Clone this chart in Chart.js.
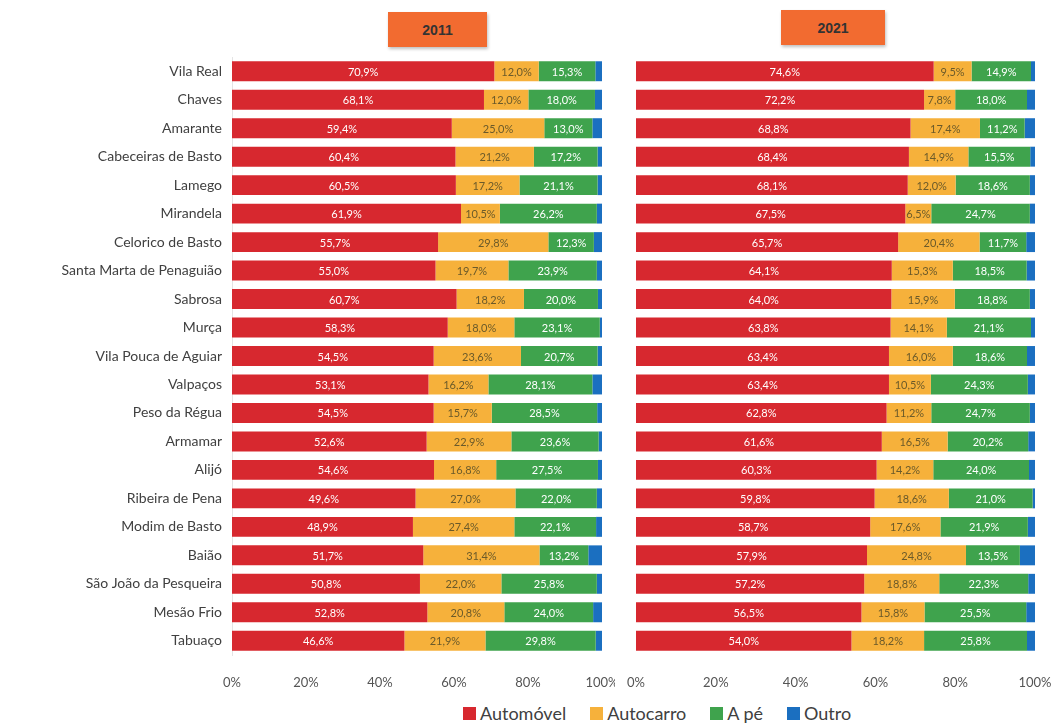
<!DOCTYPE html>
<html>
<head>
<meta charset="utf-8">
<script src="https://cdn.jsdelivr.net/npm/chart.js@4/dist/chart.umd.min.js"></script>
<style>
  body { margin: 0; background: #fff; width: 1061px; height: 724px; position: relative; overflow: hidden; font-family: Lato, sans-serif; }
  .box { position: absolute; height: 35px; background: #f26b30; box-shadow: 1px 2px 3px rgba(0,0,0,0.25);
         color: #333; font: bold 14px "Liberation Sans", sans-serif; display: flex; align-items: center; justify-content: center; }
  #wrapL { position: absolute; left: 0; top: 0; width: 615px; height: 700px; }
  #wrapR { position: absolute; left: 615px; top: 0; width: 446px; height: 700px; }
  #legend { position: absolute; top: 702px; left: 463px; width: 440px; height: 22px; display: flex; gap: 24px; color: #404040; font-size: 18px; line-height: 22px; }
  #legend span { display: flex; align-items: center; }
  #legend i { display: inline-block; width: 13px; height: 13px; margin-right: 4px; }
</style>
</head>
<body>
<div class="box" style="left:388px; top:12px; width:99px;">2011</div>
<div class="box" style="left:781px; top:10px; width:104px;">2021</div>
<div id="wrapL"><canvas id="c2011"></canvas></div>
<div id="wrapR"><canvas id="c2021"></canvas></div>
<div id="legend"></div>
<script>
const categories = ['Vila Real', 'Chaves', 'Amarante', 'Cabeceiras de Basto', 'Lamego', 'Mirandela',
  'Celorico de Basto', 'Santa Marta de Penaguião', 'Sabrosa', 'Murça', 'Vila Pouca de Aguiar', 'Valpaços',
  'Peso da Régua', 'Armamar', 'Alijó', 'Ribeira de Pena', 'Modim de Basto', 'Baião',
  'São João da Pesqueira', 'Mesão Frio', 'Tabuaço'];
const seriesNames = ['Automóvel', 'Autocarro', 'A pé', 'Outro'];
const colors = ['#d7282f', '#f6b13b', '#3fa34d', '#1b6fc0'];

const auto2011  = [70.9, 68.1, 59.4, 60.4, 60.5, 61.9, 55.7, 55.0, 60.7, 58.3, 54.5, 53.1, 54.5, 52.6, 54.6, 49.6, 48.9, 51.7, 50.8, 52.8, 46.6];
const bus2011   = [12.0, 12.0, 25.0, 21.2, 17.2, 10.5, 29.8, 19.7, 18.2, 18.0, 23.6, 16.2, 15.7, 22.9, 16.8, 27.0, 27.4, 31.4, 22.0, 20.8, 21.9];
const walk2011  = [15.3, 18.0, 13.0, 17.2, 21.1, 26.2, 12.3, 23.9, 20.0, 23.1, 20.7, 28.1, 28.5, 23.6, 27.5, 22.0, 22.1, 13.2, 25.8, 24.0, 29.8];
const other2011 = [1.8, 1.9, 2.6, 1.2, 1.2, 1.4, 2.2, 1.4, 1.1, 0.6, 1.2, 2.6, 1.3, 0.9, 1.1, 1.4, 1.6, 3.7, 1.4, 2.4, 1.7];

const auto2021  = [74.6, 72.2, 68.8, 68.4, 68.1, 67.5, 65.7, 64.1, 64.0, 63.8, 63.4, 63.4, 62.8, 61.6, 60.3, 59.8, 58.7, 57.9, 57.2, 56.5, 54.0];
const bus2021   = [9.5, 7.8, 17.4, 14.9, 12.0, 6.5, 20.4, 15.3, 15.9, 14.1, 16.0, 10.5, 11.2, 16.5, 14.2, 18.6, 17.6, 24.8, 18.8, 15.8, 18.2];
const walk2021  = [14.9, 18.0, 11.2, 15.5, 18.6, 24.7, 11.7, 18.5, 18.8, 21.1, 18.6, 24.3, 24.7, 20.2, 24.0, 21.0, 21.9, 13.5, 22.3, 25.5, 25.8];
const other2021 = [1.0, 2.0, 2.6, 1.2, 1.3, 1.3, 2.2, 2.1, 1.3, 1.0, 2.0, 1.8, 1.3, 1.7, 1.5, 0.6, 1.8, 3.8, 1.7, 2.2, 2.0];

const tickLabels = ['0%', '20%', '40%', '60%', '80%', '100%'];

const segLabels = {
  id: 'segLabels',
  afterDatasetsDraw(chart) {
    const ctx = chart.ctx;
    ctx.save();
    ctx.font = '11px Lato';
    ctx.textAlign = 'center';
    ctx.textBaseline = 'middle';
    chart.data.datasets.forEach((ds, i) => {
      if (i > 2) return;
      chart.getDatasetMeta(i).data.forEach((bar, j) => {
        ctx.fillStyle = i === 1 ? '#6b5a2a' : '#ffffff';
        ctx.fillText(ds.data[j].toFixed(1).replace('.', ',') + '%', (bar.x + bar.base) / 2, bar.y + 1);
      });
    });
    ctx.restore();
  }
};

function makeChart(id, series, showY, padding) {
  return new Chart(document.getElementById(id), {
    type: 'bar',
    data: {
      labels: categories,
      datasets: series.map((d, i) => ({
        label: seriesNames[i],
        data: d,
        backgroundColor: colors[i],
        barPercentage: 0.7,
        categoryPercentage: 1
      }))
    },
    options: {
      indexAxis: 'y',
      responsive: true,
      maintainAspectRatio: false,
      animation: false,
      layout: { padding: padding },
      plugins: { legend: { display: false }, tooltip: { enabled: false } },
      scales: {
        x: {
          stacked: true, min: 0, max: 100,
          grid: { display: false, drawTicks: false },
          border: { display: false },
          afterFit: s => { s.height = 45; s.paddingLeft = 0; s.paddingRight = 0; },
          ticks: {
            stepSize: 20, padding: 20, color: '#555', maxRotation: 0,
            font: { family: 'Lato', size: 13 },
            callback: (v, i) => tickLabels[i]
          }
        },
        y: {
          stacked: true, display: showY,
          grid: { display: false, drawTicks: false },
          border: { color: '#e4e4e4' },
          afterFit: s => { s.width = showY ? 232 : 0; },
          ticks: { padding: 10, color: '#404040', font: { family: 'Lato', size: 14 } }
        }
      }
    },
    plugins: [segLabels]
  });
}

makeChart('c2011', [auto2011, bus2011, walk2011, other2011], true, { top: 57, right: 13, bottom: 0, left: 0 });
makeChart('c2021', [auto2021, bus2021, walk2021, other2021], false, { top: 57, right: 26, bottom: 0, left: 21 });

const legend = document.getElementById('legend');
seriesNames.forEach((n, i) => {
  const s = document.createElement('span');
  s.innerHTML = '<i style="background:' + colors[i] + '"></i>' + n;
  legend.appendChild(s);
});
</script>
</body>
</html>
